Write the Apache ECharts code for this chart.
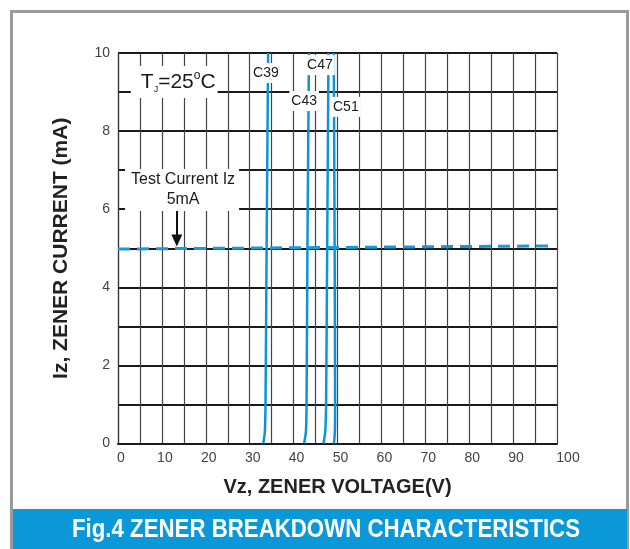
<!DOCTYPE html>
<html>
<head>
<meta charset="utf-8">
<script src="https://cdn.jsdelivr.net/npm/echarts@6/dist/echarts.min.js"></script>
<style>
  html, body { margin: 0; padding: 0; background: #fff; }
  #chart { width: 630px; height: 549px; }
</style>
</head>
<body>
<div id="chart"></div>
<script>
// zener curves, [voltage V, current mA]
const c39 = [[33.1, 0], [33.45, 0.3], [33.6, 1], [33.85, 5], [34.2, 10]]
const c43 = [[42.4, 0], [42.8, 0.3], [42.95, 1], [43.15, 5], [43.5, 10]]
const c47 = [[46.8, 0], [47.2, 0.3], [47.4, 1], [47.65, 5], [47.95, 10]]
const c51 = [[49.2, 0], [49.4, 0.3], [49.45, 1], [49.35, 5], [49.15, 10]]
const testCurrent = [[0, 4.98], [99, 5.06]]
const arrowLine = [[13.4, 6.04], [13.4, 5.2]]

// label anchor points [V, mA, text]
const curveLabels = [
  [33.7, 9.49, 'C39'],
  [46.0, 9.69, 'C47'],
  [42.4, 8.77, 'C43'],
  [51.9, 8.62, 'C51'],
]
const tjLabel = [12.8, 9.26]
const testLabel = [14.6, 6.49]

const xTicks = [0, 10, 20, 30, 40, 50, 60, 70, 80, 90, 100]
const yTicks = [0, 2, 4, 6, 8, 10]

const blue = '#0a95d8'
const sans = '"Liberation Sans", Arial, sans-serif'

const chart = echarts.init(document.getElementById('chart'))

function curve(name, data) {
  return {
    name,
    type: 'line',
    data,
    showSymbol: false,
    smooth: 0.25,
    lineStyle: { color: blue, width: 2.5 },
    z: 3,
  }
}

// invisible point that only carries a boxed text label
function note(name, data, label) {
  return {
    name,
    type: 'scatter',
    symbolSize: 0,
    z: 6,
    silent: true,
    itemStyle: { opacity: 1 },
    data,
    label: Object.assign({
      show: true,
      position: 'inside',
      color: '#1a1a1a',
      opacity: 1,
      backgroundColor: '#fff',
    }, label),
  }
}

chart.setOption({
  animation: false,
  grid: { left: 118, right: 73, top: 53, bottom: 105.5 },
  xAxis: {
    type: 'value',
    min: 0,
    max: 100,
    interval: 5,
    name: 'Vz, ZENER VOLTAGE(V)',
    nameLocation: 'middle',
    nameGap: 34,
    nameTextStyle: { fontFamily: sans, fontWeight: 'bold', fontSize: 20, color: '#222' },
    axisLine: { show: true, lineStyle: { color: '#1a1a1a', width: 2 } },
    axisTick: { show: false },
    axisLabel: {
      margin: 8,
      color: '#444',
      fontFamily: sans,
      fontSize: 14,
      formatter: v => (xTicks.includes(v) ? (v === 100 ? '{r|100}' : '{n|' + v + '}') : ''),
      rich: {
        n: { fontFamily: sans, fontSize: 14, color: '#444', padding: [0, 0, 0, 6] },
        r: { fontFamily: sans, fontSize: 14, color: '#444', padding: [0, 0, 0, 22] },
      },
    },
    splitLine: { show: true, lineStyle: { color: '#444', width: 1.2 } },
  },
  yAxis: {
    type: 'value',
    min: 0,
    max: 10,
    interval: 1,
    name: 'Iz, ZENER CURRENT (mA)',
    nameLocation: 'middle',
    nameGap: 46,
    nameTextStyle: { fontFamily: sans, fontWeight: 'bold', fontSize: 21, color: '#222' },
    axisLine: { show: true, lineStyle: { color: '#333', width: 1.2 } },
    axisTick: { show: false },
    axisLabel: {
      margin: 8,
      color: '#444',
      fontFamily: sans,
      fontSize: 14,
      formatter: v => (yTicks.includes(v) ? String(v) : ''),
    },
    splitLine: { show: true, lineStyle: { color: '#1a1a1a', width: 2 } },
  },
  series: [
    curve('C39', c39),
    curve('C43', c43),
    curve('C47', c47),
    curve('C51', c51),
    {
      name: 'Test Current',
      type: 'line',
      data: testCurrent,
      showSymbol: false,
      lineStyle: { color: '#1898dd', width: 3, type: [12, 7] },
      z: 3,
      markLine: {
        silent: true,
        symbol: ['none', 'triangle'],
        symbolSize: [11, 12],
        label: { show: false },
        lineStyle: { color: '#111', width: 2, type: 'solid' },
        data: [[{ coord: arrowLine[0] }, { coord: arrowLine[1] }]],
      },
    },
    note('labels', curveLabels.map(d => ({ value: [d[0], d[1]], name: d[2] })), {
      formatter: p => p.name,
      fontFamily: sans,
      fontSize: 14,
      padding: [3, 2, 3, 2],
    }),
    note('tj', [{ value: tjLabel }], {
      formatter: '{t|T}{j|J}{t|=25}{o|o}{t|C}',
      padding: [4, 2, 4, 10],
      rich: {
        t: { fontFamily: sans, fontSize: 21, color: '#1a1a1a', lineHeight: 24 },
        j: { fontFamily: sans, fontSize: 9, color: '#1a1a1a', verticalAlign: 'bottom', lineHeight: 14 },
        o: { fontFamily: sans, fontSize: 12, color: '#1a1a1a', verticalAlign: 'top', lineHeight: 14 },
      },
    }),
    note('test label', [{ value: testLabel }], {
      formatter: 'Test Current Iz\n5mA',
      fontFamily: sans,
      fontSize: 16,
      lineHeight: 20,
      align: 'center',
      padding: [1, 4, 1, 6],
    }),
  ],
  graphic: [
    {
      type: 'rect',
      shape: { x: 11.5, y: 11.5, width: 616, height: 545 },
      style: { fill: 'none', stroke: '#9a9a9a', lineWidth: 3 },
      silent: true,
      z: 0,
    },
    {
      type: 'rect',
      shape: { x: 13, y: 509, width: 614, height: 40 },
      style: { fill: '#0a98d8' },
      silent: true,
      z: 10,
    },
    {
      type: 'text',
      x: 326,
      y: 530,
      scaleX: 0.89,
      style: {
        text: 'Fig.4 ZENER BREAKDOWN CHARACTERISTICS',
        fill: '#fff',
        font: 'bold 25px ' + sans,
        textAlign: 'center',
        textVerticalAlign: 'middle',
      },
      silent: true,
      z: 11,
    },
  ],
})
</script>
</body>
</html>
